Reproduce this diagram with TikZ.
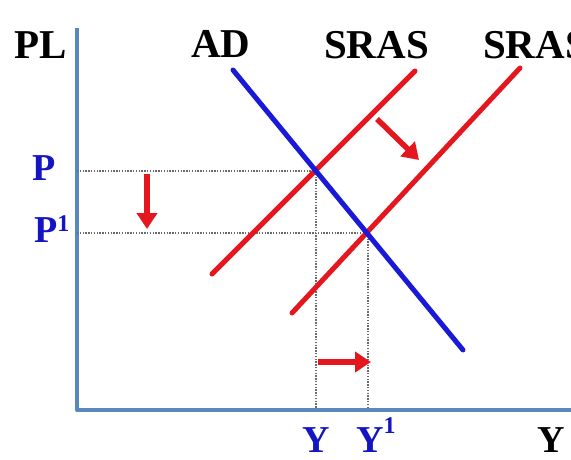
\documentclass[tikz,border=0pt]{standalone}
\usepackage{fontspec}
\setmainfont{Liberation Serif}
\usetikzlibrary{arrows.meta}
\definecolor{axisblue}{RGB}{88,136,192}
\definecolor{adblue}{RGB}{25,25,215}
\definecolor{lblblue}{RGB}{20,20,195}
\definecolor{curvered}{RGB}{228,22,30}
\definecolor{dotgray}{RGB}{105,105,110}
\tikzset{
  axisline/.style={draw=axisblue,line width=4pt,line join=round},
  adline/.style={draw=adblue,line width=5pt,line cap=round},
  sline/.style={draw=curvered,line width=5pt,line cap=round},
  guide/.style={draw=dotgray,line width=1.6pt,dash pattern=on 1.4pt off 1.4pt},
  shiftarrow/.style={draw=curvered,line width=5.5pt,-{Triangle[width=20pt,length=16pt]}},
  blacklbl/.style={inner sep=0pt,anchor=base west,font=\fontsize{41}{41}\selectfont\bfseries},
  bluelbl/.style={inner sep=0pt,anchor=base west,text=lblblue,font=\fontsize{38}{38}\selectfont\bfseries}
}
\begin{document}
\begin{tikzpicture}[x=1pt,y=-1pt]
\useasboundingbox (0,0) rectangle (571,459);
\fill[white] (0,0) rectangle (571,459);
% axes
\coordinate (top) at (77,28);
\coordinate (O) at (77,410);
\coordinate (right) at (580,410);
\draw[axisline] (top) -- (O) -- (right);
% equilibrium points
\coordinate (E1) at (316,171);
\coordinate (E2) at (368,233);
\coordinate (E1x) at (77,171);
\coordinate (E2x) at (77,233);
\coordinate (E1y) at (316,408);
\coordinate (E2y) at (368,408);
\draw[guide] (E1x) -- (E1);
\draw[guide] (E2x) -- (E2);
\draw[guide] (E1) -- (E1y);
\draw[guide] (E2) -- (E2y);
% curves
\coordinate (ad1) at (233,70);
\coordinate (ad2) at (463,350);
\coordinate (s1a) at (212,274);
\coordinate (s1b) at (415,71);
\coordinate (s2a) at (292,313);
\coordinate (s2b) at (520,68);
\draw[sline] (s1a) -- (s1b);
\draw[sline] (s2a) -- (s2b);
\draw[adline] (ad1) -- (ad2);
% shift arrows
\coordinate (da1) at (147,174);
\coordinate (da2) at (147,229);
\coordinate (sa1) at (377,119);
\coordinate (sa2) at (419,160);
\coordinate (ra1) at (318,362);
\coordinate (ra2) at (371,362);
\draw[shiftarrow] (da1) -- (da2);
\draw[shiftarrow] (sa1) -- (sa2);
\draw[shiftarrow] (ra1) -- (ra2);
% labels
\node[blacklbl] (pl) at (14,58) {PL};
\node[blacklbl] (ad) at (191,57) {AD};
\node[blacklbl] (sras1) at (324,58) {SRAS};
\node[blacklbl] (sras2) at (483,58) {SRAS};
\node[bluelbl] (p) at (32,180) {P};
\node[bluelbl] (p1) at (34,242) {P{\fontsize{24}{24}\selectfont\raisebox{11pt}{1}}};
\node[bluelbl] (y) at (302,452) {Y};
\node[bluelbl] (y1) at (356,452) {Y{\fontsize{24}{24}\selectfont\raisebox{19pt}{1}}};
\node[blacklbl,font=\fontsize{38}{38}\selectfont\bfseries] (yax) at (537,452) {Y};
\end{tikzpicture}
\end{document}
